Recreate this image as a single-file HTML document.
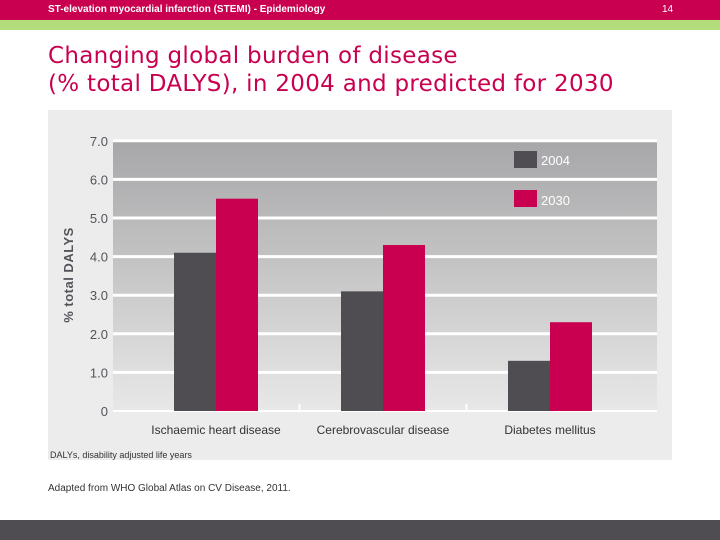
<!DOCTYPE html>
<html><head><meta charset="utf-8"><style>
body{margin:0;width:720px;height:540px;position:relative;background:#fff;font-family:"Liberation Sans",sans-serif;overflow:hidden}
.abs{position:absolute}
</style></head><body>
<div class="abs" style="left:0;top:0;width:720px;height:20px;background:#c8004f"></div>
<div class="abs" style="left:48px;top:4px;font-size:10px;font-weight:bold;color:#fff">ST-elevation myocardial infarction (STEMI) - Epidemiology</div>
<div class="abs" style="left:662px;top:4px;font-size:10px;color:#fff">14</div>
<div class="abs" style="left:0;top:20px;width:720px;height:10px;background:#b3dc7c"></div>
<div class="abs" style="left:48px;top:42px;font-size:23px;line-height:28px;color:#c8004f;font-family:'DejaVu Sans',sans-serif;letter-spacing:0.3px">Changing global burden of disease<br>(% total DALYS), in 2004 and predicted for 2030</div>
<div class="abs" style="left:0;top:520px;width:720px;height:20px;background:#4f4d52"></div>
<div class="abs" style="left:48px;top:483px;font-size:10px;color:#333">Adapted from WHO Global Atlas on CV Disease, 2011.</div>
<svg class="abs" style="left:0;top:0" width="720" height="540">
<defs><linearGradient id="g" x1="0" y1="0" x2="0" y2="1"><stop offset="0" stop-color="#a7a6a8"/><stop offset="1" stop-color="#e8e8e8"/></linearGradient></defs>
<rect x="48" y="110" width="624" height="350" fill="#ececec"/>
<rect x="113" y="141" width="544" height="270" fill="url(#g)"/>
<g id="grid"></g><g id="bars"></g><g id="labels"></g>
<text x="0" y="0" transform="translate(73,275) rotate(-90)" text-anchor="middle" font-size="13" font-weight="bold" fill="#55535a" letter-spacing="0.5">% total DALYS</text>
<rect x="514" y="151" width="23" height="17" fill="#4f4d52"/>
<text x="541" y="165" font-size="13" fill="#fff">2004</text>
<rect x="514" y="190" width="23" height="17" fill="#c8004f"/>
<text x="541" y="205" font-size="13" fill="#fff">2030</text>
<text x="50" y="458" font-size="9" fill="#333">DALYs, disability adjusted life years</text>
</svg>
<script>
const categories=["Ischaemic heart disease","Cerebrovascular disease","Diabetes mellitus"];
const values2004=[4.1,3.1,1.3];
const values2030=[5.5,4.3,2.3];
const tickValues=[0,1,2,3,4,5,6,7];
const tickLabels=["0","1.0","2.0","3.0","4.0","5.0","6.0","7.0"];
const NS="http://www.w3.org/2000/svg";
const y0=411,pxPer=38.6,bandStart=132.5,bandW=167,barW=42;
const y=v=>y0-v*pxPer;
const cx=i=>bandStart+bandW*(i+0.5);
function mk(t,a,p){const e=document.createElementNS(NS,t);for(const k in a)e.setAttribute(k,a[k]);p.appendChild(e);return e;}
const grid=document.getElementById('grid'),bars=document.getElementById('bars'),labels=document.getElementById('labels');
tickValues.forEach((v,i)=>{
 const l=mk('line',{x1:113,x2:657,y1:y(v),y2:y(v),stroke:'#fff','stroke-width':v===0?2:3},grid);
 
 
 const t=mk('text',{x:108,y:y(v)+5,'text-anchor':'end','font-size':13,fill:'#55535a'},grid);
 t.textContent=tickLabels[i];
 
 
});
for(let i=1;i<categories.length;i++){
 const tk=mk('line',{x1:bandStart+bandW*i,x2:bandStart+bandW*i,y1:y0,y2:y0-7,stroke:'#fff','stroke-width':2},grid);
 
 
}
categories.forEach((c,i)=>{
 const a=mk('rect',{x:cx(i)-barW,y:y(values2004[i]),width:barW,height:values2004[i]*pxPer,fill:'#4f4d52'},bars);
 
 
 const b=mk('rect',{x:cx(i),y:y(values2030[i]),width:barW,height:values2030[i]*pxPer,fill:'#c8004f'},bars);
 
 
 const t=mk('text',{x:cx(i),y:434,'text-anchor':'middle','font-size':12,fill:'#333'},labels);
 t.textContent=c;
 
 
});
</script>
</body></html>
